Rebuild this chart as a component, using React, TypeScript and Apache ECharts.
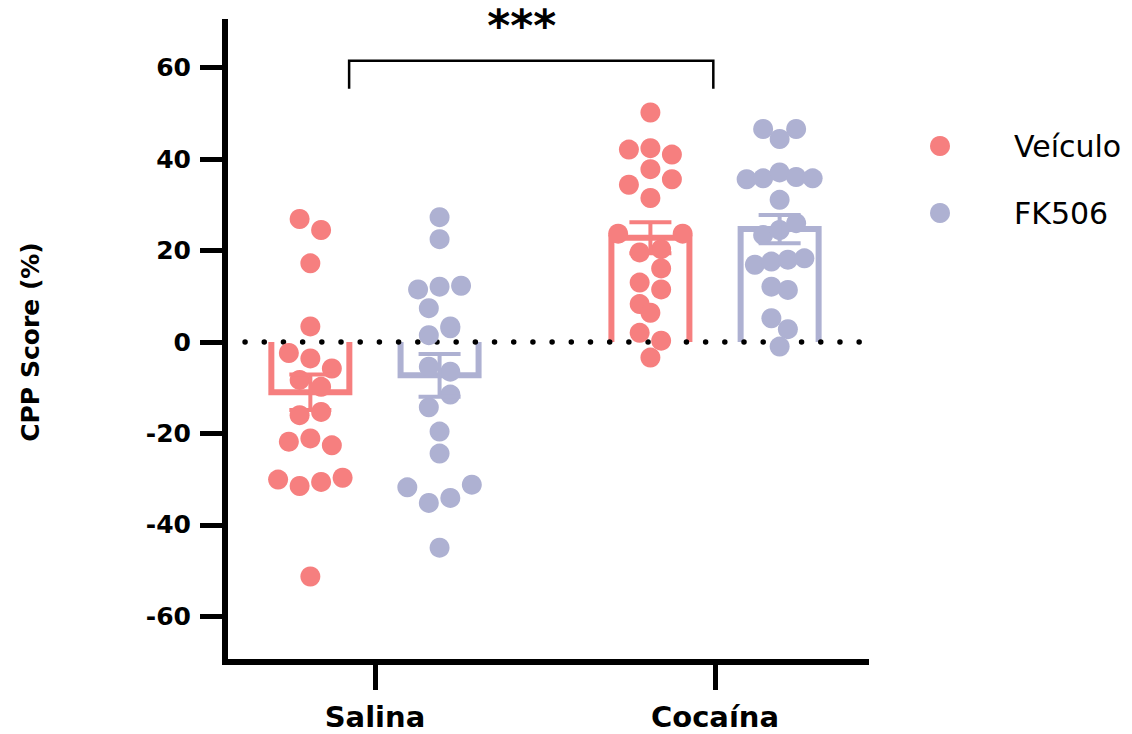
import React, { useEffect, useRef } from 'react';
import * as echarts from 'echarts';

// ---------- data ----------
const categories = ['Salina', 'Cocaína'];
const seriesNames = ['Veículo', 'FK506'];
const yTicks = [-60, -40, -20, 0, 20, 40, 60];

const salinaVeiculo = [26.9, 24.5, 17.2, 3.4, -2.4, -3.6, -5.8, -8.3, -9.8, -16.0, -15.3, -21.8, -21.1, -22.6, -30.1, -31.5, -30.6, -29.7, -51.3];
const salinaFK506 = [27.3, 22.5, 11.5, 12.1, 12.3, 7.4, 3.4, 1.5, 3.0, -5.4, -6.5, -14.3, -11.5, -19.6, -24.4, -31.8, -35.2, -34.1, -31.2, -45.0];
const cocainaVeiculo = [50.2, 42.1, 42.4, 41.0, 34.4, 37.8, 35.6, 31.5, 23.7, 19.6, 20.3, 23.7, 13.0, 16.1, 8.3, 11.5, 6.4, 2.0, 0.3, -3.4];
const cocainaFK506 = [46.6, 44.4, 46.6, 35.6, 35.8, 37.1, 36.1, 35.8, 31.1, 23.4, 24.5, 26.0, 16.9, 17.6, 18.0, 18.3, 12.1, 11.4, 5.2, 2.8, -1.0];

const veiculoMean = [-11.0, 22.8];
const veiculoSem = [3.9, 3.4];
const fk506Mean = [-7.3, 24.7];
const fk506Sem = [4.7, 3.1];

const significance = '***';

// ---------- layout / style ----------
const COLORS = ['#F67F7F', '#AEB1D2'];
const GRID = { left: 225, right: 266, top: 22, bottom: 72 };
const W = 1132;
const H = 734;
const X_MIN = 0.559;
const X_MAX = 2.444;
const Y_MIN = -70;
const Y_MAX = 70;
const PX_PER_X = (W - GRID.left - GRID.right) / (X_MAX - X_MIN);
const PX_PER_Y = (H - GRID.top - GRID.bottom) / (Y_MAX - Y_MIN);
const GROUP_OFFSET = 0.19; // in category units
const BAR_HALF_PX = 39;
const CAP_HALF_PX = 21;
const SLOT_PX = 21.5;
const MAX_SPAN_PX = 66;
const ROW_GAP_PX = 19;
const FONT = 'DejaVu Sans';

// simple row-based beeswarm: returns horizontal offsets (x units)
function swarm(values: number[]): number[] {
  const order = values.map((_, i) => i).sort((a, b) => values[b] - values[a]);
  const rows: number[][] = [];
  let row: number[] = [];
  for (const i of order) {
    if (row.length && (values[row[0]] - values[i]) * PX_PER_Y >= ROW_GAP_PX) {
      rows.push(row);
      row = [];
    }
    row.push(i);
  }
  if (row.length) rows.push(row);
  const maxN = Math.max(...rows.map((r) => r.length));
  const step = maxN > 1 ? Math.min(SLOT_PX, MAX_SPAN_PX / (maxN - 1)) : SLOT_PX;
  const out = new Array(values.length).fill(0);
  rows.forEach((r) => {
    const sorted = [...r].sort((a, b) => a - b);
    const n = sorted.length;
    sorted.forEach((k, j) => {
      out[k] = ((j - (n - 1) / 2) * step) / PX_PER_X;
    });
  });
  return out;
}

function points(vals: number[], center: number) {
  const off = swarm(vals);
  return vals.map((v, i) => [center + off[i], v]);
}

export default function App() {
  const ref = useRef<HTMLDivElement>(null);

  useEffect(() => {
    if (!ref.current) return;
    const chart = echarts.init(ref.current, null, { renderer: 'svg' });

    const vCenters = [1 - GROUP_OFFSET, 2 - GROUP_OFFSET];
    const fCenters = [1 + GROUP_OFFSET, 2 + GROUP_OFFSET];

    const barRender = (color: string) => (params: any, api: any) => {
      const x = api.value(0);
      const v = api.value(1);
      const hw = BAR_HALF_PX / PX_PER_X;
      const a = api.coord([x - hw, 0]);
      const b = api.coord([x - hw, v]);
      const c = api.coord([x + hw, v]);
      const d = api.coord([x + hw, 0]);
      return {
        type: 'polyline',
        shape: { points: [a, b, c, d] },
        style: { stroke: color, lineWidth: 6, fill: null, lineJoin: 'miter' },
      };
    };

    const errRender = (color: string) => (params: any, api: any) => {
      const x = api.value(0);
      const m = api.value(1);
      const s = api.value(2);
      const top = api.coord([x, m + s]);
      const bot = api.coord([x, m - s]);
      const st = { stroke: color, lineWidth: 4 };
      return {
        type: 'group',
        children: [
          { type: 'line', shape: { x1: top[0], y1: top[1], x2: bot[0], y2: bot[1] }, style: st },
          { type: 'line', shape: { x1: top[0] - CAP_HALF_PX, y1: top[1], x2: top[0] + CAP_HALF_PX, y2: top[1] }, style: st },
          { type: 'line', shape: { x1: bot[0] - CAP_HALF_PX, y1: bot[1], x2: bot[0] + CAP_HALF_PX, y2: bot[1] }, style: st },
        ],
      };
    };

    const option: any = {
      animation: false,
      textStyle: { fontFamily: FONT },
      grid: { ...GRID, containLabel: false },
      legend: {
        data: seriesNames,
        orient: 'vertical',
        left: 925,
        top: 126,
        icon: 'circle',
        itemWidth: 138,
        itemHeight: 20,
        itemGap: 37,
        selectedMode: false,
        textStyle: { fontSize: 30, fontFamily: FONT, color: '#000', lineHeight: 30 },
      },
      xAxis: {
        type: 'value',
        min: X_MIN,
        max: X_MAX,
        axisLine: { show: true, onZero: false, lineStyle: { color: '#000', width: 6, cap: 'square' } },
        axisTick: { show: true, customValues: [1, 2], length: 28, lineStyle: { color: '#000', width: 5 } },
        axisLabel: {
          customValues: [1, 2],
          formatter: (v: number) => categories[Math.round(v) - 1] || '',
          margin: 41,
          fontSize: 29,
          lineHeight: 28,
          fontWeight: 'bold',
          fontFamily: FONT,
          color: '#000',
        },
        splitLine: { show: false },
      },
      yAxis: {
        type: 'value',
        min: Y_MIN,
        max: Y_MAX,
        axisLine: { show: true, onZero: false, lineStyle: { color: '#000', width: 6, cap: 'square' } },
        axisTick: { show: true, customValues: yTicks, length: 25, lineStyle: { color: '#000', width: 5 } },
        axisLabel: {
          customValues: yTicks,
          margin: 34,
          fontSize: 25,
          fontWeight: 'bold',
          fontFamily: FONT,
          color: '#000',
        },
        splitLine: { show: false },
        name: 'CPP Score (%)',
        nameLocation: 'middle',
        nameGap: 182,
        nameTextStyle: { fontSize: 25, fontWeight: 'bold', fontFamily: FONT, color: '#000' },
      },
      series: [
        {
          name: seriesNames[0],
          type: 'scatter',
          symbolSize: 20,
          z: 5,
          itemStyle: { color: COLORS[0], opacity: 1 },
          data: [...points(salinaVeiculo, vCenters[0]), ...points(cocainaVeiculo, vCenters[1])],
        },
        {
          name: seriesNames[1],
          type: 'scatter',
          symbolSize: 20,
          z: 5,
          itemStyle: { color: COLORS[1], opacity: 1 },
          data: [...points(salinaFK506, fCenters[0]), ...points(cocainaFK506, fCenters[1])],
        },
        {
          name: 'bar-v',
          type: 'custom',
          z: 1,
          clip: false,
          renderItem: barRender(COLORS[0]),
          encode: { x: 0, y: 1 },
          data: veiculoMean.map((m, i) => [vCenters[i], m]),
        },
        {
          name: 'bar-f',
          type: 'custom',
          z: 1,
          clip: false,
          renderItem: barRender(COLORS[1]),
          encode: { x: 0, y: 1 },
          data: fk506Mean.map((m, i) => [fCenters[i], m]),
        },
        {
          name: 'zero',
          type: 'custom',
          z: 3,
          clip: false,
          renderItem: (params: any, api: any) => {
            const a = api.coord([api.value(0), 0]);
            const b = api.coord([api.value(1), 0]);
            return {
              type: 'line',
              shape: { x1: a[0], y1: a[1], x2: b[0], y2: b[1] },
              style: { stroke: '#000', lineWidth: 5.5, lineCap: 'round', lineDash: [0.01, 19.18] },
            };
          },
          encode: { x: [0, 1] },
          data: [[0.618, 2.427]],
        },
        {
          name: 'err-v',
          type: 'custom',
          z: 6,
          clip: false,
          renderItem: errRender(COLORS[0]),
          encode: { x: 0, y: 1 },
          data: veiculoMean.map((m, i) => [vCenters[i], m, veiculoSem[i]]),
        },
        {
          name: 'err-f',
          type: 'custom',
          z: 6,
          clip: false,
          renderItem: errRender(COLORS[1]),
          encode: { x: 0, y: 1 },
          data: fk506Mean.map((m, i) => [fCenters[i], m, fk506Sem[i]]),
        },
        {
          name: 'bracket',
          type: 'custom',
          z: 6,
          clip: false,
          renderItem: (params: any, api: any) => {
            const x1 = api.value(0);
            const x2 = api.value(1);
            const yTop = api.value(2);
            const yBot = api.value(3);
            const p1 = api.coord([x1, yBot]);
            const p2 = api.coord([x1, yTop]);
            const p3 = api.coord([x2, yTop]);
            const p4 = api.coord([x2, yBot]);
            const t = api.coord([api.value(4), api.value(5)]);
            return {
              type: 'group',
              children: [
                {
                  type: 'polyline',
                  shape: { points: [p1, p2, p3, p4] },
                  style: { stroke: '#000', lineWidth: 2.5, fill: null },
                },
                {
                  type: 'text',
                  x: t[0],
                  y: t[1],
                  style: {
                    text: significance,
                    fill: '#000',
                    fontSize: 44,
                    fontWeight: 'bold',
                    fontFamily: FONT,
                    align: 'center',
                    verticalAlign: 'middle',
                  },
                },
              ],
            };
          },
          encode: { x: [0, 1], y: [2, 3] },
          data: [[0.924, 1.995, 61.5, 55.4, 1.432, 69.2]],
        },
      ],
    };

    chart.setOption(option);
    return () => chart.dispose();
  }, []);

  return (
    <div
      ref={ref}
      style={{ position: 'fixed', left: 0, top: 0, width: W, height: H, background: '#fff' }}
    />
  );
}
